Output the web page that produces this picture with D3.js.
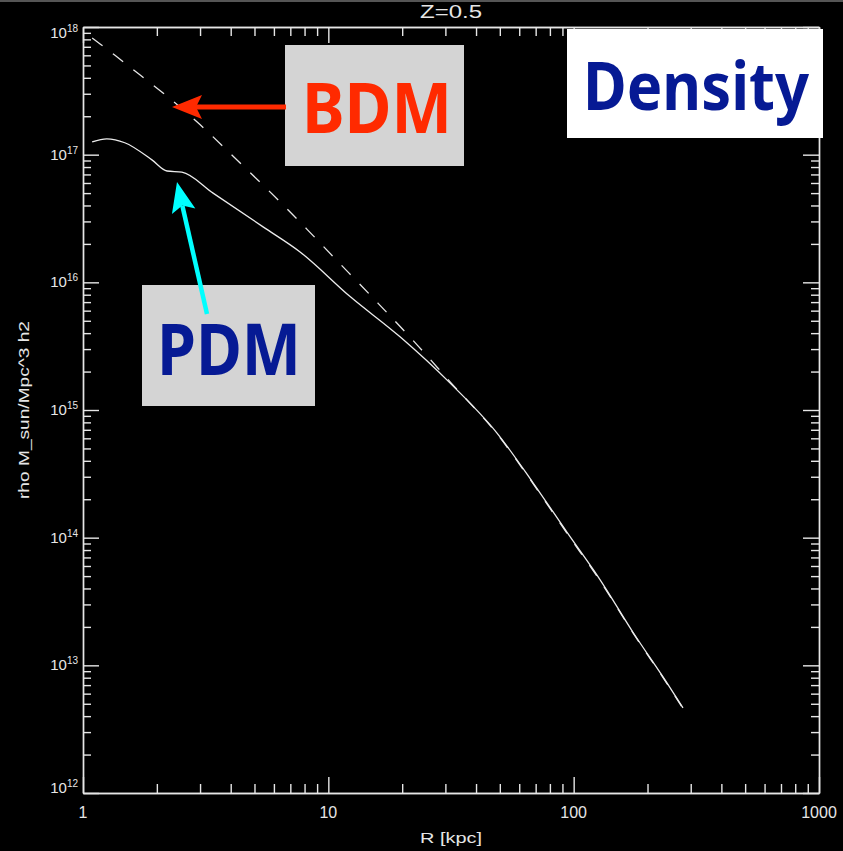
<!DOCTYPE html>
<html>
<head>
<meta charset="utf-8">
<script src="https://cdn.jsdelivr.net/npm/d3@7"></script>
<style>
  html, body { margin: 0; padding: 0; background: #000; }
  svg { display: block; }
  text { font-family: "Liberation Sans", "DejaVu Sans", sans-serif; fill: #e6e6e6; }
  .big { font-family: "Comic Sans MS", "Noto Sans", "DejaVu Sans", sans-serif; font-weight: bold; }
</style>
</head>
<body>
<div id="chart"></div>
<script>
// radius in kpc, density in M_sun/Mpc^3 h^2
const pdmR   = [1.09, 1.25, 1.48, 1.91, 2.20, 2.53, 3.39, 5.42, 7.67, 12.3, 19.6, 31.3, 48.7, 68.3, 94, 128, 175, 240, 279];
const pdmRho = [1.26e17, 1.33e17, 1.24e17, 9.1e16, 7.45e16, 7.3e16, 5.0e16, 2.72e16, 1.73e16, 7.7e15, 3.74e15, 1.63e15, 6.6e14, 2.69e14, 1.1e14, 4.7e13, 1.8e13, 7.3e12, 4.65e12];

const bdmR   = [1.09, 1.17, 1.35, 1.71, 2.12, 2.92, 4.37, 5.62, 6.79, 8.19, 10.4, 15.2, 23.0, 31.3, 48.7, 68.3, 94, 128, 175, 240, 275];
const bdmRho = [8.2e17, 7.4e17, 6.0e17, 4.2e17, 3.04e17, 1.8e17, 8.6e16, 5.4e16, 3.76e16, 2.6e16, 1.61e16, 7.55e15, 3.24e15, 1.67e15, 6.5e14, 2.65e14, 1.08e14, 4.6e13, 1.78e13, 7.2e12, 4.8e12];

const xTicks = [1, 10, 100, 1000];
const xTickLabels = ["1", "10", "100", "1000"];
const yTicks = [1e12, 1e13, 1e14, 1e15, 1e16, 1e17, 1e18];
const yTickExp = ["12", "13", "14", "15", "16", "17", "18"];

const title = "Z=0.5";
const xTitle = "R [kpc]";
const yTitle = "rho M_sun/Mpc^3 h2";

const width = 843, height = 851;
const plotL = 83, plotR = 819, plotT = 27, plotB = 793;

const svg = d3.select('#chart').append('svg')
    .attr('width', width)
    .attr('height', height);

svg.append('rect').attr('width', width).attr('height', height).attr('fill', '#000');
svg.append('rect').attr('width', width).attr('height', 2).attr('fill', '#555');

const x = d3.scaleLog().domain([1, 1000]).range([plotL, plotR]);
const y = d3.scaleLog().domain([1e12, 1e18]).range([plotB, plotT]);

// minor ticks 2..9 in every decade
function minors(lo, hi) {
    const out = [];
    for (let d = lo; d < hi; d *= 10)
        for (let k = 2; k <= 9; k++) out.push(d * k);
    return out;
}
const xMinor = minors(1, 1000);
const yMinor = minors(1e12, 1e18);

function styleAxis(g) {
    g.selectAll('path, line').attr('stroke', '#e6e6e6').attr('stroke-width', 1.4);
    g.selectAll('text').remove();
}

// bottom and top
[[plotB, d3.axisTop], [plotT, d3.axisBottom]].forEach(([pos, fn]) => {
    svg.append('g').attr('transform', `translate(0,${pos})`)
        .call(fn(x).tickValues(xMinor).tickSize(9).tickSizeOuter(0).tickFormat(''))
        .call(styleAxis);
    svg.append('g').attr('transform', `translate(0,${pos})`)
        .call(fn(x).tickValues(xTicks).tickSize(16).tickSizeOuter(0).tickFormat(''))
        .call(styleAxis);
});
// left and right
[[plotL, d3.axisRight], [plotR, d3.axisLeft]].forEach(([pos, fn]) => {
    svg.append('g').attr('transform', `translate(${pos},0)`)
        .call(fn(y).tickValues(yMinor).tickSize(8).tickSizeOuter(0).tickFormat(''))
        .call(styleAxis);
    svg.append('g').attr('transform', `translate(${pos},0)`)
        .call(fn(y).tickValues(yTicks).tickSize(16).tickSizeOuter(0).tickFormat(''))
        .call(styleAxis);
});

// tick labels
svg.append('g').selectAll('text')
    .data(xTicks)
    .enter().append('text')
    .attr('x', d => x(d))
    .attr('y', 818)
    .attr('text-anchor', 'middle')
    .attr('font-size', 16)
    .text((d, i) => xTickLabels[i]);

const yl = svg.append('g').selectAll('text')
    .data(yTicks)
    .enter().append('text')
    .attr('x', 78)
    .attr('y', d => Math.min(Math.max(y(d), 33), 788) + 5)
    .attr('text-anchor', 'end')
    .attr('font-size', 15);
yl.append('tspan').text('10');
yl.append('tspan').attr('font-size', 10).attr('dy', -6).text((d, i) => yTickExp[i]);

svg.append('text').attr('x', (plotL + plotR) / 2 - 31).attr('y', 18)
    .attr('font-size', 18).attr('textLength', 62).attr('lengthAdjust', 'spacingAndGlyphs')
    .text(title);
svg.append('text').attr('x', (plotL + plotR) / 2 - 31).attr('y', 843)
    .attr('font-size', 15).attr('textLength', 62).attr('lengthAdjust', 'spacingAndGlyphs')
    .text(xTitle);
svg.append('text')
    .attr('transform', `translate(29,${(plotT + plotB) / 2 + 89}) rotate(-90)`)
    .attr('font-size', 14).attr('textLength', 178).attr('lengthAdjust', 'spacingAndGlyphs')
    .text(yTitle);

// curves
const line = d3.line()
    .x(d => x(d[0]))
    .y(d => y(d[1]))
    .curve(d3.curveMonotoneX);

svg.append('path')
    .datum(bdmR.map((r, i) => [r, bdmRho[i]]))
    .attr('d', line)
    .attr('fill', 'none')
    .attr('stroke', '#e6e6e6')
    .attr('stroke-width', 1.3)
    .attr('stroke-dasharray', '13,13');

svg.append('path')
    .datum(pdmR.map((r, i) => [r, pdmRho[i]]))
    .attr('d', line)
    .attr('fill', 'none')
    .attr('stroke', '#ececec')
    .attr('stroke-width', 1.3);

// annotations
function arrow(x1, y1, x2, y2, color, w, head, half) {
    const a = Math.atan2(y2 - y1, x2 - x1);
    const bx = x2 - head * Math.cos(a), by = y2 - head * Math.sin(a);
    svg.append('line').attr('x1', x1).attr('y1', y1).attr('x2', bx).attr('y2', by)
        .attr('stroke', color).attr('stroke-width', w);
    const px = -Math.sin(a) * half, py = Math.cos(a) * half;
    const back = 6;
    const nx = bx - back * Math.cos(a), ny = by - back * Math.sin(a);
    svg.append('path')
        .attr('d', `M${x2},${y2}L${nx + px},${ny + py}L${bx},${by}L${nx - px},${ny - py}Z`)
        .attr('fill', color);
}

function label(bx, by, bw, bh, fill, txt, tx, ty, tw, size, color) {
    svg.append('rect').attr('x', bx).attr('y', by).attr('width', bw).attr('height', bh).attr('fill', fill);
    svg.append('text').attr('class', 'big')
        .attr('x', tx).attr('y', ty)
        .attr('font-size', size)
        .attr('textLength', tw).attr('lengthAdjust', 'spacingAndGlyphs')
        .style('fill', color)
        .text(txt);
}

label(285, 45, 179, 121, '#d4d4d4', 'BDM', 302, 133, 150, 70, '#ff2a00');
arrow(286, 107, 172, 107, '#ff2a00', 5, 24, 12);

label(142, 285, 173, 121, '#d4d4d4', 'PDM', 157, 375, 144, 72, '#061a94');
arrow(207, 314, 177, 182, '#00ffff', 4.5, 24, 12);

label(567, 29, 256, 109, '#ffffff', 'Density', 583, 110, 226, 66, '#061a94');
</script>
</body>
</html>
